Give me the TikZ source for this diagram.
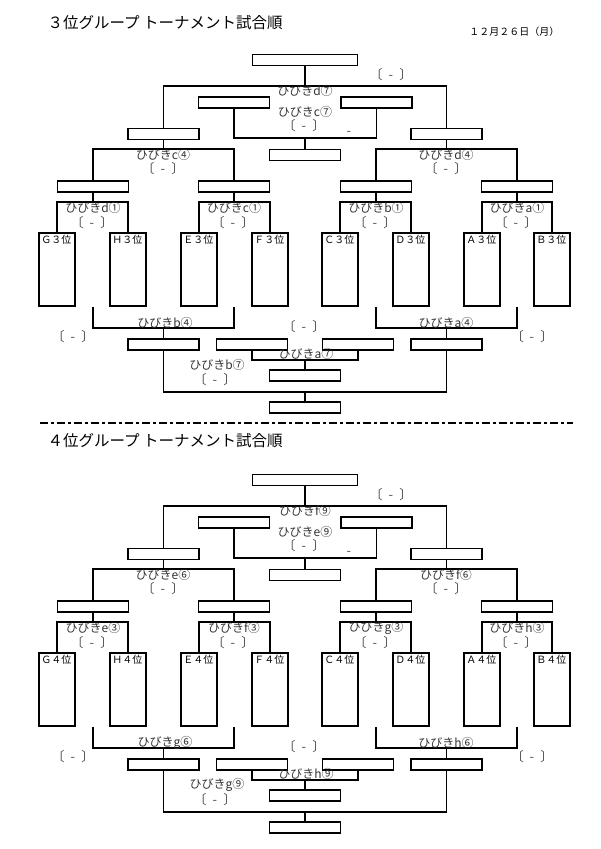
\documentclass[tikz,border=0pt]{standalone}
\usepackage{fontspec}
\setmainfont{Noto Sans CJK JP}

\begin{document}
\begin{tikzpicture}[x=1pt,y=-1pt,
  slot/.style={draw, line width=1.6pt, minimum width=71pt, minimum height=11pt, inner sep=0pt},
  team/.style={draw, line width=1.6pt, minimum width=36pt, minimum height=73pt, inner sep=0pt},
  link/.style={line width=1.6pt},
  lbl/.style={font=\fontsize{12}{12}\selectfont, text=black!80, inner sep=0pt},
  tlbl/.style={font=\fontsize{10}{10}\selectfont, inner sep=0pt, anchor=north west},
  sc/.style={font=\fontsize{13}{13}\selectfont, text=black!70, inner sep=0pt}]
\useasboundingbox (0,0) rectangle (600,849);

\node[anchor=west, font=\fontsize{15.5}{15.5}\selectfont] (A-title) at (44,23) {３位グループ トーナメント試合順};
\node[anchor=east, font=\fontsize{10}{10}\selectfont] (A-date) at (563,32) {１２月２６日（月）};

\node[slot, minimum width=105pt] (A-fin) at (305,60) {};
\node[slot] (A-s1) at (163.5,134) {};
\node[slot] (A-s2) at (446.5,134) {};
\node[slot] (A-l1) at (234,102.5) {};
\node[slot] (A-l2) at (376.5,102.5) {};
\node[slot] (A-3rd) at (305,155) {};
\node[slot] (A-r1) at (93,186.5) {};
\node[slot] (A-r2) at (234,186.5) {};
\node[slot] (A-r3) at (376,186.5) {};
\node[slot] (A-r4) at (517,186.5) {};
\node[team] (A-G) at (57,269.5) {};
\node[team] (A-H) at (128,269.5) {};
\node[team] (A-E) at (199,269.5) {};
\node[team] (A-F) at (270,269.5) {};
\node[team] (A-C) at (340,269.5) {};
\node[team] (A-D) at (411,269.5) {};
\node[team] (A-A) at (482,269.5) {};
\node[team] (A-B) at (552,269.5) {};
\node[tlbl] (A-tG) at ([shift={(3,3)}]A-G.north west) {Ｇ３位};
\node[tlbl] (A-tH) at ([shift={(3,3)}]A-H.north west) {Ｈ３位};
\node[tlbl] (A-tE) at ([shift={(3,3)}]A-E.north west) {Ｅ３位};
\node[tlbl] (A-tF) at ([shift={(3,3)}]A-F.north west) {Ｆ３位};
\node[tlbl] (A-tC) at ([shift={(3,3)}]A-C.north west) {Ｃ３位};
\node[tlbl] (A-tD) at ([shift={(3,3)}]A-D.north west) {Ｄ３位};
\node[tlbl] (A-tA) at ([shift={(3,3)}]A-A.north west) {Ａ３位};
\node[tlbl] (A-tB) at ([shift={(3,3)}]A-B.north west) {Ｂ３位};
\node[slot] (A-c1) at (163.5,344.5) {};
\node[slot] (A-c2) at (252,344.5) {};
\node[slot] (A-c3) at (358,344.5) {};
\node[slot] (A-c4) at (446.5,344.5) {};
\node[slot] (A-c5) at (305,375.5) {};
\node[slot] (A-c6) at (305,407.5) {};

\coordinate (A-j1) at (A-fin |- 0,86);
\coordinate (A-j2) at (A-3rd |- 0,138);
\coordinate (A-j3) at (A-s1 |- 0,149);
\coordinate (A-j4) at (A-s2 |- 0,149);
\coordinate (A-j5) at (A-r1 |- 0,202);
\coordinate (A-j6) at (A-r2 |- 0,202);
\coordinate (A-j7) at (A-r3 |- 0,202);
\coordinate (A-j8) at (A-r4 |- 0,202);
\coordinate (A-k1) at (A-r1 |- A-G.south);
\coordinate (A-k2) at (A-r2 |- A-G.south);
\coordinate (A-k3) at (A-r3 |- A-G.south);
\coordinate (A-k4) at (A-r4 |- A-G.south);
\coordinate (A-j9) at (A-c1 |- 0,328);
\coordinate (A-j10) at (A-c4 |- 0,328);
\coordinate (A-j11) at (A-c5 |- 0,360);
\coordinate (A-j12) at (A-c6 |- 0,392);

\draw[link] (A-fin) -- (A-j1);
\draw[link] (A-s1) |- (A-j1) -| (A-s2);
\draw[link] (A-l1) |- (A-j2) -| (A-l2);
\draw[link] (A-j2) -- (A-3rd);
\draw[link] (A-s1) -- (A-j3);
\draw[link] (A-r1) |- (A-j3) -| (A-r2);
\draw[link] (A-s2) -- (A-j4);
\draw[link] (A-r3) |- (A-j4) -| (A-r4);
\draw[link] (A-r1) -- (A-j5);
\draw[link] (A-G) |- (A-j5) -| (A-H);
\draw[link] (A-r2) -- (A-j6);
\draw[link] (A-E) |- (A-j6) -| (A-F);
\draw[link] (A-r3) -- (A-j7);
\draw[link] (A-C) |- (A-j7) -| (A-D);
\draw[link] (A-r4) -- (A-j8);
\draw[link] (A-A) |- (A-j8) -| (A-B);
\draw[link] (A-k1) |- (A-j9) -| (A-k2);
\draw[link] (A-j9) -- (A-c1);
\draw[link] (A-k3) |- (A-j10) -| (A-k4);
\draw[link] (A-j10) -- (A-c4);
\draw[link] (A-c2) |- (A-j11) -| (A-c3);
\draw[link] (A-j11) -- (A-c5);
\draw[link] (A-c1) |- (A-j12) -| (A-c4);
\draw[link] (A-j12) -- (A-c6);

\node[lbl] (A-m7d) at (305,91) {ひびきd⑦};
\node[lbl] (A-m7c) at (305,112) {ひびきc⑦};
\node[sc] (A-x1) at (391,75) {〔\hspace{6pt}-\hspace{6pt}〕};
\node[sc] (A-x2) at (304,126) {〔\hspace{6pt}-\hspace{6pt}〕};
\node[sc] (A-x3) at (349,133) {-};
\node[lbl] (A-m4c) at (163,155) {ひびきc④};
\node[sc] (A-x4) at (163,169) {〔\hspace{6pt}-\hspace{6pt}〕};
\node[lbl] (A-m4d) at (446,155) {ひびきd④};
\node[sc] (A-x5) at (446,169) {〔\hspace{6pt}-\hspace{6pt}〕};
\node[lbl] (A-m1d) at (93,208) {ひびきd①};
\node[sc] (A-x6) at (92,223) {〔\hspace{6pt}-\hspace{6pt}〕};
\node[lbl] (A-m1c) at (234,208) {ひびきc①};
\node[sc] (A-x7) at (233,223) {〔\hspace{6pt}-\hspace{6pt}〕};
\node[lbl] (A-m1b) at (376,208) {ひびきb①};
\node[sc] (A-x8) at (375,223) {〔\hspace{6pt}-\hspace{6pt}〕};
\node[lbl] (A-m1a) at (517,208) {ひびきa①};
\node[sc] (A-x9) at (516,223) {〔\hspace{6pt}-\hspace{6pt}〕};
\node[lbl] (A-m4b) at (165,323) {ひびきb④};
\node[lbl] (A-m4a) at (446,323) {ひびきa④};
\node[sc] (A-x10) at (73,337) {〔\hspace{6pt}-\hspace{6pt}〕};
\node[sc] (A-x11) at (532,337) {〔\hspace{6pt}-\hspace{6pt}〕};
\node[sc] (A-x12) at (304,327) {〔\hspace{6pt}-\hspace{6pt}〕};
\node[lbl] (A-m7a) at (306,354) {ひびきa⑦};
\node[lbl] (A-m7b) at (217,365) {ひびきb⑦};
\node[sc] (A-x13) at (215,380) {〔\hspace{6pt}-\hspace{6pt}〕};

\draw[line width=1.6pt, dash pattern=on 8pt off 3pt on 3pt off 3pt] (40,423) -- (573,423);

\begin{scope}[shift={(0,420)}]
\node[anchor=west, font=\fontsize{15.5}{15.5}\selectfont] (B-title) at (44,21) {４位グループ トーナメント試合順};

\node[slot, minimum width=105pt] (B-fin) at (305,60) {};
\node[slot] (B-s1) at (163.5,134) {};
\node[slot] (B-s2) at (446.5,134) {};
\node[slot] (B-l1) at (234,102.5) {};
\node[slot] (B-l2) at (376.5,102.5) {};
\node[slot] (B-3rd) at (305,155) {};
\node[slot] (B-r1) at (93,186.5) {};
\node[slot] (B-r2) at (234,186.5) {};
\node[slot] (B-r3) at (376,186.5) {};
\node[slot] (B-r4) at (517,186.5) {};
\node[team] (B-G) at (57,269.5) {};
\node[team] (B-H) at (128,269.5) {};
\node[team] (B-E) at (199,269.5) {};
\node[team] (B-F) at (270,269.5) {};
\node[team] (B-C) at (340,269.5) {};
\node[team] (B-D) at (411,269.5) {};
\node[team] (B-A) at (482,269.5) {};
\node[team] (B-B) at (552,269.5) {};
\node[tlbl] (B-tG) at ([shift={(3,3)}]B-G.north west) {Ｇ４位};
\node[tlbl] (B-tH) at ([shift={(3,3)}]B-H.north west) {Ｈ４位};
\node[tlbl] (B-tE) at ([shift={(3,3)}]B-E.north west) {Ｅ４位};
\node[tlbl] (B-tF) at ([shift={(3,3)}]B-F.north west) {Ｆ４位};
\node[tlbl] (B-tC) at ([shift={(3,3)}]B-C.north west) {Ｃ４位};
\node[tlbl] (B-tD) at ([shift={(3,3)}]B-D.north west) {Ｄ４位};
\node[tlbl] (B-tA) at ([shift={(3,3)}]B-A.north west) {Ａ４位};
\node[tlbl] (B-tB) at ([shift={(3,3)}]B-B.north west) {Ｂ４位};
\node[slot] (B-c1) at (163.5,344.5) {};
\node[slot] (B-c2) at (252,344.5) {};
\node[slot] (B-c3) at (358,344.5) {};
\node[slot] (B-c4) at (446.5,344.5) {};
\node[slot] (B-c5) at (305,375.5) {};
\node[slot] (B-c6) at (305,407.5) {};

\coordinate (B-j1) at (B-fin |- 0,86);
\coordinate (B-j2) at (B-3rd |- 0,138);
\coordinate (B-j3) at (B-s1 |- 0,149);
\coordinate (B-j4) at (B-s2 |- 0,149);
\coordinate (B-j5) at (B-r1 |- 0,202);
\coordinate (B-j6) at (B-r2 |- 0,202);
\coordinate (B-j7) at (B-r3 |- 0,202);
\coordinate (B-j8) at (B-r4 |- 0,202);
\coordinate (B-k1) at (B-r1 |- B-G.south);
\coordinate (B-k2) at (B-r2 |- B-G.south);
\coordinate (B-k3) at (B-r3 |- B-G.south);
\coordinate (B-k4) at (B-r4 |- B-G.south);
\coordinate (B-j9) at (B-c1 |- 0,328);
\coordinate (B-j10) at (B-c4 |- 0,328);
\coordinate (B-j11) at (B-c5 |- 0,360);
\coordinate (B-j12) at (B-c6 |- 0,392);

\draw[link] (B-fin) -- (B-j1);
\draw[link] (B-s1) |- (B-j1) -| (B-s2);
\draw[link] (B-l1) |- (B-j2) -| (B-l2);
\draw[link] (B-j2) -- (B-3rd);
\draw[link] (B-s1) -- (B-j3);
\draw[link] (B-r1) |- (B-j3) -| (B-r2);
\draw[link] (B-s2) -- (B-j4);
\draw[link] (B-r3) |- (B-j4) -| (B-r4);
\draw[link] (B-r1) -- (B-j5);
\draw[link] (B-G) |- (B-j5) -| (B-H);
\draw[link] (B-r2) -- (B-j6);
\draw[link] (B-E) |- (B-j6) -| (B-F);
\draw[link] (B-r3) -- (B-j7);
\draw[link] (B-C) |- (B-j7) -| (B-D);
\draw[link] (B-r4) -- (B-j8);
\draw[link] (B-A) |- (B-j8) -| (B-B);
\draw[link] (B-k1) |- (B-j9) -| (B-k2);
\draw[link] (B-j9) -- (B-c1);
\draw[link] (B-k3) |- (B-j10) -| (B-k4);
\draw[link] (B-j10) -- (B-c4);
\draw[link] (B-c2) |- (B-j11) -| (B-c3);
\draw[link] (B-j11) -- (B-c5);
\draw[link] (B-c1) |- (B-j12) -| (B-c4);
\draw[link] (B-j12) -- (B-c6);

\node[lbl] (B-m9f) at (305,91) {ひびきf⑨};
\node[lbl] (B-m9e) at (305,112) {ひびきe⑨};
\node[sc] (B-x1) at (391,75) {〔\hspace{6pt}-\hspace{6pt}〕};
\node[sc] (B-x2) at (304,126) {〔\hspace{6pt}-\hspace{6pt}〕};
\node[sc] (B-x3) at (349,133) {-};
\node[lbl] (B-m6e) at (163,155) {ひびきe⑥};
\node[sc] (B-x4) at (163,169) {〔\hspace{6pt}-\hspace{6pt}〕};
\node[lbl] (B-m6f) at (446,155) {ひびきf⑥};
\node[sc] (B-x5) at (446,169) {〔\hspace{6pt}-\hspace{6pt}〕};
\node[lbl] (B-m3e) at (93,208) {ひびきe③};
\node[sc] (B-x6) at (92,223) {〔\hspace{6pt}-\hspace{6pt}〕};
\node[lbl] (B-m3f) at (234,208) {ひびきf③};
\node[sc] (B-x7) at (233,223) {〔\hspace{6pt}-\hspace{6pt}〕};
\node[lbl] (B-m3g) at (376,208) {ひびきg③};
\node[sc] (B-x8) at (375,223) {〔\hspace{6pt}-\hspace{6pt}〕};
\node[lbl] (B-m3h) at (517,208) {ひびきh③};
\node[sc] (B-x9) at (516,223) {〔\hspace{6pt}-\hspace{6pt}〕};
\node[lbl] (B-m6g) at (165,323) {ひびきg⑥};
\node[lbl] (B-m6h) at (446,323) {ひびきh⑥};
\node[sc] (B-x10) at (73,337) {〔\hspace{6pt}-\hspace{6pt}〕};
\node[sc] (B-x11) at (532,337) {〔\hspace{6pt}-\hspace{6pt}〕};
\node[sc] (B-x12) at (304,327) {〔\hspace{6pt}-\hspace{6pt}〕};
\node[lbl] (B-m9h) at (306,354) {ひびきh⑨};
\node[lbl] (B-m9g) at (217,365) {ひびきg⑨};
\node[sc] (B-x13) at (215,380) {〔\hspace{6pt}-\hspace{6pt}〕};
\end{scope}
\end{tikzpicture}
\end{document}
